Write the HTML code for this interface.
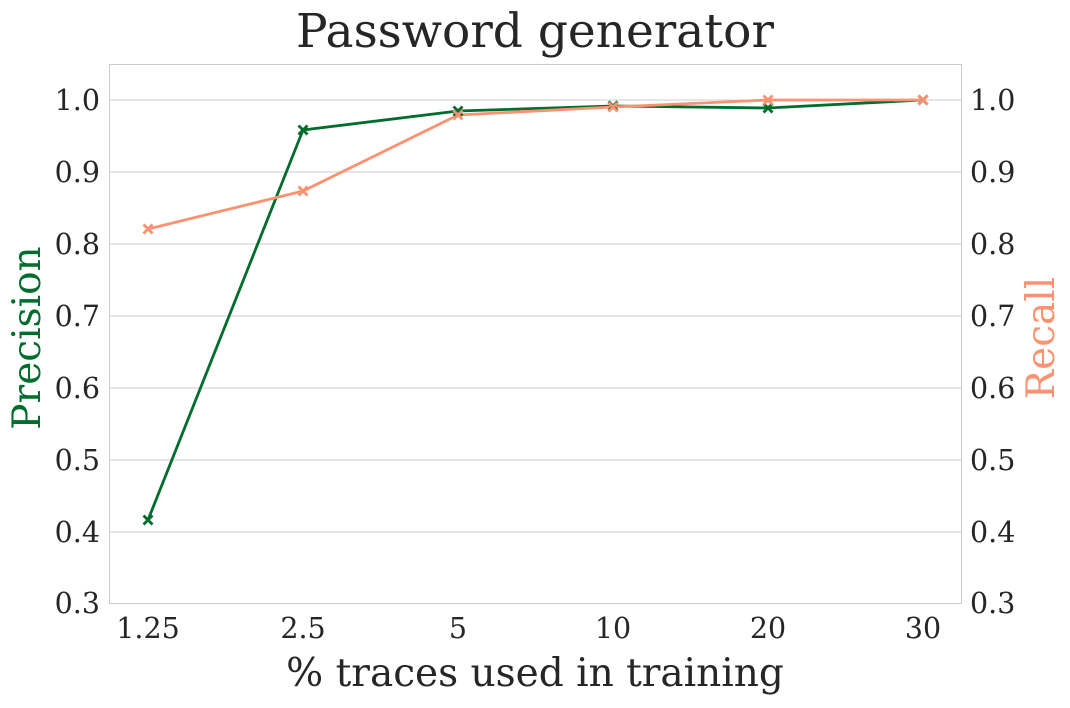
<!DOCTYPE html>
<html><head><meta charset="utf-8"><style>
html,body{margin:0;padding:0;background:#fff;}
svg text{font-family:"DejaVu Serif","Liberation Serif",serif;}
</style></head><body>
<svg width="1070" height="703" viewBox="0 0 1070 703" xmlns="http://www.w3.org/2000/svg">
<rect width="1070" height="703" fill="#fff"/>
<g stroke="#cccccc" stroke-width="1">
<line x1="109" y1="100" x2="962" y2="100"/>
<line x1="109" y1="172" x2="962" y2="172"/>
<line x1="109" y1="244" x2="962" y2="244"/>
<line x1="109" y1="316" x2="962" y2="316"/>
<line x1="109" y1="388" x2="962" y2="388"/>
<line x1="109" y1="460" x2="962" y2="460"/>
<line x1="109" y1="532" x2="962" y2="532"/>
<rect x="109.5" y="64.5" width="852" height="539" fill="none"/>
</g>
<text x="535" y="47" font-size="47" text-anchor="middle" fill="#262626">Password generator</text>
<g font-size="28.5" fill="#262626" text-anchor="end">
<text x="100" y="110">1.0</text><text x="100" y="182">0.9</text><text x="100" y="254">0.8</text><text x="100" y="326">0.7</text><text x="100" y="398">0.6</text><text x="100" y="470">0.5</text><text x="100" y="542">0.4</text><text x="100" y="613">0.3</text>
</g>
<g font-size="28.5" fill="#262626">
<text x="970" y="110">1.0</text><text x="970" y="182">0.9</text><text x="970" y="254">0.8</text><text x="970" y="326">0.7</text><text x="970" y="398">0.6</text><text x="970" y="470">0.5</text><text x="970" y="542">0.4</text><text x="970" y="613">0.3</text>
</g>
<g font-size="28.5" fill="#262626" text-anchor="middle">
<text x="148" y="638">1.25</text><text x="303" y="638">2.5</text><text x="458" y="638">5</text><text x="613" y="638">10</text><text x="768" y="638">20</text><text x="923" y="638">30</text>
</g>
<text x="535" y="686" font-size="39" text-anchor="middle" fill="#262626">% traces used in training</text>
<text transform="translate(40,338) rotate(-90)" font-size="39" text-anchor="middle" fill="#006d2c">Precision</text>
<text transform="translate(1054,338) rotate(-90)" font-size="39" text-anchor="middle" fill="#fc9272">Recall</text>
<polyline fill="none" stroke="#006d2c" stroke-width="2.8" points="148,520 303,130 458,111 613,106 768,108 923,100"/>
<polyline fill="none" stroke="#fc9272" stroke-width="2.8" points="148,229 303,191 458,115 613,107 768,100 923,100"/>
<g stroke="#006d2c" stroke-width="2.8">
<path d="M143.5,515.5l9,9M152.5,515.5l-9,9"/><path d="M298.5,125.5l9,9M307.5,125.5l-9,9"/><path d="M453.5,106.5l9,9M462.5,106.5l-9,9"/><path d="M608.5,101.5l9,9M617.5,101.5l-9,9"/><path d="M763.5,103.5l9,9M772.5,103.5l-9,9"/><path d="M918.5,95.5l9,9M927.5,95.5l-9,9"/>
</g>
<g stroke="#fc9272" stroke-width="2.8">
<path d="M143.5,224.5l9,9M152.5,224.5l-9,9"/><path d="M298.5,186.5l9,9M307.5,186.5l-9,9"/><path d="M453.5,110.5l9,9M462.5,110.5l-9,9"/><path d="M608.5,102.5l9,9M617.5,102.5l-9,9"/><path d="M763.5,95.5l9,9M772.5,95.5l-9,9"/><path d="M918.5,95.5l9,9M927.5,95.5l-9,9"/>
</g>
</svg>
</body></html>
